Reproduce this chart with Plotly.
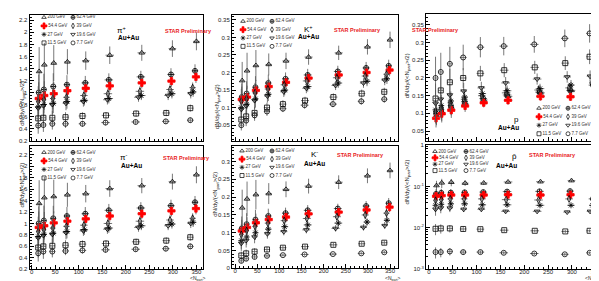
import plotly.graph_objects as go

W, H = 599, 281

energies = ["200 GeV", "62.4 GeV", "54.4 GeV", "39 GeV", "27 GeV", "19.6 GeV", "11.5 GeV", "7.7 GeV"]
symbols = ["triangle-up-open", "circle-cross-open", "cross", "diamond-tall-open",
           "asterisk-open", "triangle-down-open", "square-open", "circle-open"]
mcolors = ["black", "black", "red", "black", "black", "black", "black", "black"]

# <Npart> per energy (peripheral -> central)
npart = [
    [16, 27, 47, 76, 115, 166, 234, 299, 350],
    [15, 26, 46, 75, 114, 164, 232, 296, 347],
    [15, 27, 47, 76, 115, 166, 234, 297, 349],
    [14, 26, 45, 74, 111, 162, 230, 294, 342],
    [14, 26, 46, 75, 112, 164, 233, 298, 343],
    [14, 25, 44, 73, 110, 161, 227, 290, 338],
    [14, 25, 44, 72, 108, 158, 222, 286, 337],
    [14, 25, 44, 72, 108, 157, 221, 285, 337],
]
npart_err = [4, 5, 6, 7, 8, 9, 9, 8, 7]
rel_err = [0.3, 0.25, 0.2, 0.14, 0.1, 0.09, 0.08, 0.08, 0.08]

pip = [
    [1.35, 1.46, 1.49, 1.51, 1.53, 1.62, 1.66, 1.73, 1.85],
    [1.00, 1.05, 1.10, 1.13, 1.16, 1.21, 1.26, 1.30, 1.36],
    [0.90, 0.95, 0.98, 1.03, 1.07, 1.11, 1.16, 1.19, 1.26],
    [0.85, 0.88, 0.90, 0.92, 0.95, 0.98, 1.02, 1.05, 1.08],
    [0.76, 0.80, 0.82, 0.85, 0.87, 0.90, 0.95, 0.98, 1.01],
    [0.74, 0.78, 0.80, 0.82, 0.85, 0.88, 0.92, 0.95, 0.98],
    [0.57, 0.58, 0.58, 0.59, 0.61, 0.62, 0.65, 0.66, 0.74],
    [0.45, 0.46, 0.48, 0.48, 0.48, 0.50, 0.51, 0.52, 0.54],
]
kp = [
    [0.177, 0.205, 0.220, 0.223, 0.233, 0.244, 0.256, 0.273, 0.293],
    [0.130, 0.140, 0.158, 0.170, 0.182, 0.193, 0.203, 0.213, 0.219],
    [0.123, 0.130, 0.149, 0.160, 0.172, 0.184, 0.193, 0.200, 0.207],
    [0.118, 0.125, 0.142, 0.153, 0.165, 0.176, 0.185, 0.190, 0.195],
    [0.100, 0.110, 0.125, 0.138, 0.150, 0.160, 0.170, 0.175, 0.182],
    [0.095, 0.105, 0.120, 0.133, 0.145, 0.155, 0.163, 0.170, 0.178],
    [0.066, 0.075, 0.085, 0.100, 0.110, 0.120, 0.130, 0.140, 0.145],
    [0.050, 0.063, 0.078, 0.089, 0.097, 0.107, 0.110, 0.118, 0.124],
]
pr = [
    [0.095, 0.105, 0.118, 0.128, 0.138, 0.148, 0.158, 0.165, 0.195],
    [0.100, 0.110, 0.122, 0.133, 0.142, 0.152, 0.160, 0.165, 0.172],
    [0.086, 0.099, 0.109, 0.121, 0.130, 0.137, 0.148, 0.147, 0.155],
    [0.106, 0.117, 0.130, 0.140, 0.150, 0.158, 0.166, 0.172, 0.180],
    [0.110, 0.122, 0.135, 0.146, 0.156, 0.164, 0.170, 0.180, 0.186],
    [0.128, 0.140, 0.152, 0.163, 0.172, 0.186, 0.197, 0.203, 0.205],
    [0.142, 0.165, 0.188, 0.200, 0.213, 0.222, 0.230, 0.242, 0.260],
    [0.200, 0.217, 0.240, 0.258, 0.287, 0.290, 0.295, 0.312, 0.326],
]
pim = [
    [1.35, 1.45, 1.47, 1.50, 1.52, 1.61, 1.66, 1.73, 1.85],
    [1.00, 1.05, 1.09, 1.13, 1.17, 1.23, 1.27, 1.31, 1.37],
    [0.93, 0.96, 1.01, 1.04, 1.08, 1.13, 1.17, 1.22, 1.26],
    [0.86, 0.89, 0.92, 0.95, 0.97, 1.00, 1.04, 1.06, 1.09],
    [0.77, 0.81, 0.83, 0.86, 0.89, 0.92, 0.96, 0.99, 1.02],
    [0.75, 0.79, 0.81, 0.84, 0.87, 0.90, 0.93, 0.96, 1.00],
    [0.58, 0.60, 0.61, 0.62, 0.64, 0.65, 0.68, 0.70, 0.76],
    [0.48, 0.51, 0.51, 0.52, 0.53, 0.54, 0.55, 0.56, 0.60],
]
km = [
    [0.170, 0.195, 0.207, 0.210, 0.222, 0.231, 0.242, 0.260, 0.275],
    [0.112, 0.124, 0.137, 0.147, 0.155, 0.163, 0.168, 0.175, 0.183],
    [0.105, 0.115, 0.128, 0.137, 0.144, 0.153, 0.158, 0.164, 0.172],
    [0.095, 0.106, 0.118, 0.127, 0.134, 0.140, 0.145, 0.150, 0.155],
    [0.078, 0.088, 0.100, 0.110, 0.117, 0.122, 0.127, 0.130, 0.135],
    [0.070, 0.078, 0.088, 0.097, 0.103, 0.108, 0.112, 0.115, 0.120],
    [0.036, 0.042, 0.047, 0.053, 0.058, 0.061, 0.066, 0.069, 0.072],
    [0.021, 0.027, 0.032, 0.035, 0.037, 0.039, 0.040, 0.042, 0.045],
]
pbar = [
    [0.105, 0.122, 0.126, 0.120, 0.121, 0.128, 0.130, 0.138, 0.150],
    [0.066, 0.070, 0.071, 0.072, 0.073, 0.075, 0.076, 0.077, 0.079],
    [0.058, 0.060, 0.062, 0.062, 0.062, 0.063, 0.062, 0.063, 0.066],
    [0.046, 0.048, 0.050, 0.050, 0.050, 0.048, 0.047, 0.050, 0.050],
    [0.035, 0.037, 0.038, 0.038, 0.036, 0.036, 0.035, 0.035, 0.035],
    [0.028, 0.030, 0.030, 0.028, 0.028, 0.025, 0.025, 0.024, 0.025],
    [0.0095, 0.0097, 0.0097, 0.0094, 0.0093, 0.0088, 0.0085, 0.0082, 0.0085],
    [0.0026, 0.0026, 0.0027, 0.0026, 0.0026, 0.0025, 0.0024, 0.0023, 0.0025],
]

particles = ["π<sup>+</sup>", "K<sup>+</sup>", "p", "π<sup>-</sup>", "K<sup>-</sup>", "p\u0304"]

# panel geometry in pixels: (left, right, top, bottom)
panels = [
    dict(vals=pip, box=(21.5, 195, 5, 133), xr=[-4.5, 364], yr=[0.2, 2.29], dt=0.2, mdt=0.05, log=False, xl=False,
         leg=(36, 65, 7.5, 33.5), part=(107, 13, 108, 22), star=(155, 16), ytit=(9, 70)),
    dict(vals=kp, box=(224, 390, 5, 133), xr=[-7, 368], yr=[0.006, 0.364], dt=0.05, mdt=0.01, log=False, xl=False,
         leg=(235, 264, 11.5, 37), part=(300, 12, 300, 21), star=(349, 15), ytit=(209, 74)),
    dict(vals=pr, box=(418, 594, 4, 133), xr=[-6, 363], yr=[0.023, 0.381], dt=0.05, mdt=0.01, log=False, xl=False,
         leg=(531, 560, 100, 126), part=(513, 111, 513, 120), star=(453, 15), ytit=(405, 42)),
    dict(vals=pim, box=(21.5, 195, 138, 264), xr=[-4.5, 364], yr=[0.2, 2.36], dt=0.2, mdt=0.05, log=False, xl=True,
         leg=(36, 65, 145, 171), part=(110, 150, 111, 158), star=(153, 151), ytit=(9, 203)),
    dict(vals=km, box=(224, 390, 138, 263), xr=[-7, 368], yr=[0, 0.345], dt=0.05, mdt=0.01, log=False, xl=True,
         leg=(234, 264, 143.5, 168.5), part=(306, 147, 306, 156), star=(352, 148), ytit=(208, 213)),
    dict(vals=pbar, box=(418, 594, 137, 264), xr=[-6, 363], yr=[-3, 0.01], dt=None, mdt=None, log=True, xl=True,
         leg=(427, 458, 144, 163.5), part=(511, 149, 511, 158), star=(570, 148), ytit=(405, 175)),
]

FONT = "Liberation Sans, Arial, sans-serif"
fig = go.Figure()
annotations = []
layout = {}

for k, p in enumerate(panels):
    n = k + 1
    xa = "x" if n == 1 else f"x{n}"
    ya = "y" if n == 1 else f"y{n}"
    for i, e in enumerate(energies):
        vals = p["vals"][i]
        fig.add_trace(go.Scatter(
            x=npart[i], y=vals, xaxis=xa, yaxis=ya, mode="markers",
            marker=dict(symbol=symbols[i], size=6 if i == 2 else 5, color=mcolors[i],
                        line=dict(width=0.8, color=mcolors[i])),
            error_y=dict(type="data", array=[v * r for v, r in zip(vals, rel_err)],
                         color="#555", thickness=0.8, width=0),
            error_x=dict(type="data", array=npart_err, color="#555", thickness=0.8, width=0),
            cliponaxis=True, showlegend=False, hoverinfo="skip"))
    l, r, t, b = p["box"]
    xkey = "xaxis" if n == 1 else f"xaxis{n}"
    ykey = "yaxis" if n == 1 else f"yaxis{n}"
    layout[xkey] = dict(domain=[l / W, r / W], range=p["xr"], anchor=ya,
                        showline=True, mirror=True, linecolor="black", linewidth=1,
                        ticks="inside", ticklen=4, tickcolor="black", dtick=50, tick0=0,
                        minor=dict(ticks="inside", ticklen=2, dtick=10, tickcolor="black"),
                        showticklabels=p["xl"], ticklabelstandoff=-4,
                        showgrid=False, zeroline=False,
                        tickfont=dict(size=6, color="#222", family=FONT))
    ycfg = dict(domain=[1 - b / H, 1 - t / H], range=p["yr"], anchor=xa,
                showline=True, mirror=True, linecolor="black", linewidth=1,
                ticks="inside", ticklen=4, tickcolor="black",
                showgrid=False, zeroline=False, tickfont=dict(size=6, color="#222", family=FONT))
    if p["log"]:
        ycfg.update(type="log", tickvals=[0.001, 0.01, 0.1, 1],
                    ticktext=["10<sup>-3</sup>", "10<sup>-2</sup>", "10<sup>-1</sup>", "1"],
                    minor=dict(ticks="inside", ticklen=2, tickcolor="black",
                               tickvals=[m * 10 ** d for d in (-3, -2, -1) for m in range(2, 10)]))
    else:
        ycfg.update(dtick=p["dt"], tick0=0,
                    minor=dict(ticks="inside", ticklen=2, dtick=p["mdt"], tickcolor="black"))
    layout[ykey] = ycfg

    # legend key grid (2 columns x 4 rows)
    ln = n + 6
    lx0, lx1, ly0, ly1 = p["leg"]
    layout[f"xaxis{ln}"] = dict(domain=[lx0 / W, lx1 / W], range=[0, 1], visible=False, anchor=f"y{ln}")
    layout[f"yaxis{ln}"] = dict(domain=[1 - ly1 / H, 1 - ly0 / H], range=[3, 0], visible=False, anchor=f"x{ln}")
    for i, e in enumerate(energies):
        fig.add_trace(go.Scatter(
            x=[i % 2], y=[i // 2], xaxis=f"x{ln}", yaxis=f"y{ln}", mode="markers+text",
            text=[e], textposition="middle right",
            textfont=dict(size=4.5, color="#333", family=FONT),
            marker=dict(symbol=symbols[i], size=5 if i == 2 else 4, color=mcolors[i],
                        line=dict(width=0.7, color=mcolors[i])),
            cliponaxis=False, showlegend=False, hoverinfo="skip"))

    # particle label, Au+Au, STAR Preliminary
    px1, py1, px2, py2 = p["part"]
    annotations.append(dict(text=particles[k], x=px1 / W, y=1 - py1 / H, xref="paper", yref="paper",
                            showarrow=False, font=dict(size=8, color="black", family=FONT)))
    annotations.append(dict(text="<b>Au+Au</b>", x=px2 / W, y=1 - py2 / H, xref="paper", yref="paper",
                            showarrow=False, font=dict(size=6.5, color="black", family=FONT)))
    sx, sy = p["star"]
    annotations.append(dict(text="<b>STAR Preliminary</b>", x=sx / W, y=1 - sy / H, xref="paper", yref="paper",
                            showarrow=False, font=dict(size=5.5, color="#e8221c", family=FONT)))
    tx, ty = p["ytit"]
    annotations.append(dict(text="dN/dy/(&lt;N<sub>part</sub>&gt;/2)", x=tx / W, y=1 - ty / H,
                            xref="paper", yref="paper", textangle=-90, showarrow=False,
                            font=dict(size=6, color="#222", family=FONT)))
    if p["xl"]:
        annotations.append(dict(text="&lt;N<sub>part</sub>&gt;", x=min(r + 4, 594) / W, y=1 - 273 / H,
                                xref="paper", yref="paper", xanchor="right", yanchor="middle",
                                borderpad=0, showarrow=False, font=dict(size=5, color="#222", family=FONT)))

fig.update_layout(
    width=W, height=H, margin=dict(l=0, r=0, t=0, b=0),
    paper_bgcolor="white", plot_bgcolor="rgba(0,0,0,0)",
    showlegend=False, hovermode=False, annotations=annotations,
    font=dict(family=FONT), **layout)

fig.write_html("out.html")
